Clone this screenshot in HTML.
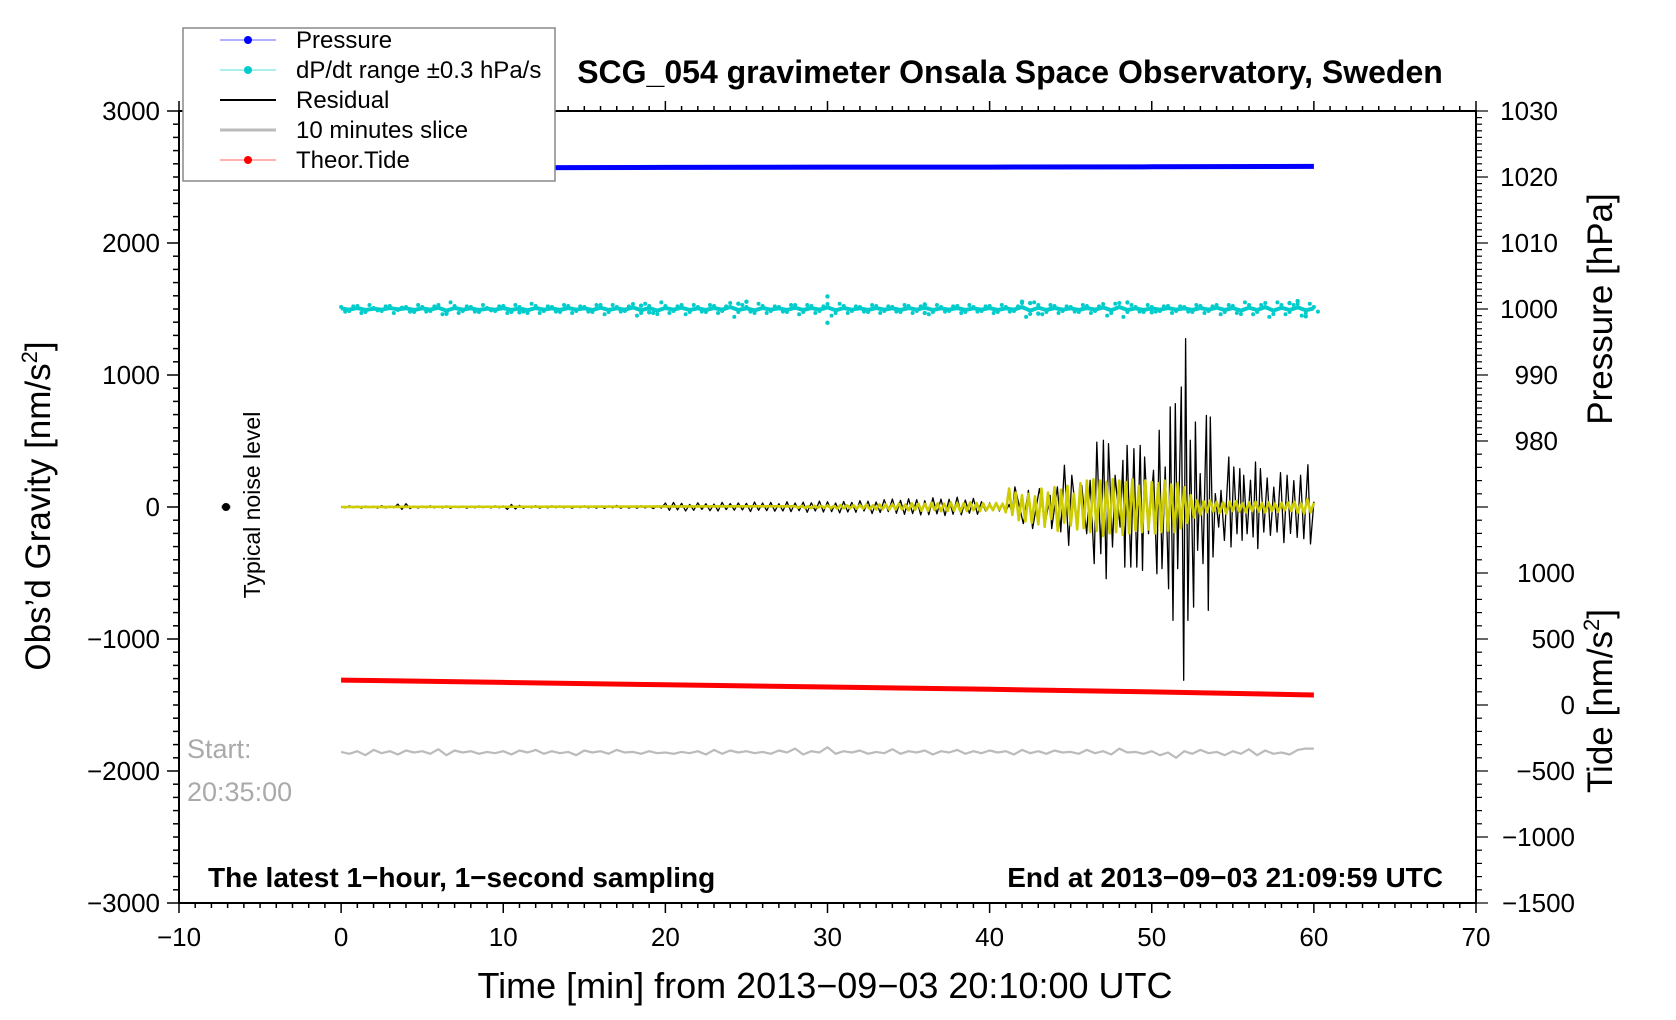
<!DOCTYPE html>
<html><head><meta charset="utf-8"><style>
html,body{margin:0;padding:0;background:#fff;}
svg{display:block;font-family:"Liberation Sans",Arial,sans-serif;}
</style></head><body>
<svg id="chart" width="1676" height="1020" viewBox="0 0 1676 1020">
<rect x="0" y="0" width="1676" height="1020" fill="#fff"/>
<g id="ticks"></g>
<g id="series"></g>
<rect x="179" y="111" width="1297" height="792" fill="none" stroke="#000" stroke-width="2"/>
<text x="1010" y="83" font-size="32" font-weight="bold" text-anchor="middle">SCG_054 gravimeter Onsala Space Observatory, Sweden</text>
<text x="208" y="887" font-size="28" font-weight="bold">The latest 1−hour, 1−second sampling</text>
<text x="1443" y="887" font-size="28" font-weight="bold" text-anchor="end">End at 2013−09−03 21:09:59 UTC</text>
<text x="825" y="998" font-size="36" text-anchor="middle">Time [min] from 2013−09−03 20:10:00 UTC</text>
<text transform="translate(50,506) rotate(-90)" font-size="35" text-anchor="middle">Obs’d Gravity [nm/s<tspan font-size="22" dy="-13">2</tspan><tspan dy="13">]</tspan></text>
<text transform="translate(1612,309) rotate(-90)" font-size="35" text-anchor="middle">Pressure [hPa]</text>
<text transform="translate(1612,701) rotate(-90)" font-size="35" text-anchor="middle">Tide [nm/s<tspan font-size="22" dy="-13">2</tspan><tspan dy="13">]</tspan></text>
<text transform="translate(260,505) rotate(-90)" font-size="23" text-anchor="middle">Typical noise level</text>
<line x1="221" y1="507" x2="231" y2="507" stroke="#bbb" stroke-width="3"/>
<circle cx="226" cy="507" r="4" fill="#000"/>
<text x="187" y="758" font-size="27" fill="#aaa">Start:</text>
<text x="187" y="801" font-size="27" fill="#aaa">20:35:00</text>
<g>
<rect x="183" y="28" width="372" height="153" fill="#fff" stroke="#888" stroke-width="1.5"/>
<g><line x1="220" y1="40" x2="276" y2="40" stroke="#6666ff" stroke-width="1"/><circle cx="248" cy="40" r="4" fill="#0000ff"/><text x="296" y="48" font-size="24">Pressure</text></g>
<g><line x1="220" y1="70" x2="276" y2="70" stroke="#55dddd" stroke-width="1"/><circle cx="248" cy="70" r="4" fill="#00cccc"/><text x="296" y="78" font-size="24">dP/dt range ±0.3 hPa/s</text></g>
<g><line x1="220" y1="100" x2="276" y2="100" stroke="#000" stroke-width="2"/><text x="296" y="108" font-size="24">Residual</text></g>
<g><line x1="220" y1="130" x2="276" y2="130" stroke="#bbb" stroke-width="3"/><text x="296" y="138" font-size="24">10 minutes slice</text></g>
<g><line x1="220" y1="160" x2="276" y2="160" stroke="#ff6666" stroke-width="1"/><circle cx="248" cy="160" r="4" fill="#ff0000"/><text x="296" y="168" font-size="24">Theor.Tide</text></g>
</g>
</svg>
<script>
// ---- data ----
const xTicks = [-10,0,10,20,30,40,50,60,70];
const yTicks = [3000,2000,1000,0,-1000,-2000,-3000];
const pTicks = [1030,1020,1010,1000,990,980];
const tideTicks = [1000,500,0,-500,-1000,-1500];
const pressureT = [0,10,20,30,40,50,60];
const pressureV = [1021.4,1021.4,1021.45,1021.5,1021.5,1021.55,1021.6];
const tideT = [0,10,20,30,40,50,60];
const tideV = [189,171,153,136,119,99,76];
const dpdtStep = 0.5;
const dpdtV = [0.2,-0.2,0.3,-0.3,0.1,-0.2,0.3,-0.1,0.2,-0.3,0.2,-0.2,0.4,-0.5,0.3,-0.2,0.2,-0.3,0.1,-0.2,
0.3,-0.3,0.2,-0.4,0.3,-0.2,0.2,-0.3,0.3,-0.2,0.2,-0.3,0.4,-0.3,0.2,-0.2,0.5,-0.4,0.3,-0.5,
0.3,-0.2,0.4,-0.3,0.2,-0.3,0.3,-0.2,0.6,-0.3,0.2,-0.4,0.3,-0.2,0.2,-0.3,0.4,-0.3,0.3,-0.2,
0.5,-0.4,0.3,-0.2,0.2,-0.3,0.3,-0.2,0.2,-0.3,0.3,-0.2,0.4,-0.3,0.2,-0.2,0.3,-0.3,0.2,-0.2,
0.3,-0.3,0.2,-0.2,0.6,-0.5,0.4,-0.3,0.3,-0.2,0.2,-0.3,0.3,-0.2,0.5,-0.4,0.6,-0.3,0.2,-0.3,
0.2,-0.2,0.3,-0.2,0.2,-0.3,0.3,-0.2,0.4,-0.3,0.3,-0.5,0.4,-0.3,0.6,-0.5,0.4,-0.3,0.5,-0.4,0.2];
const dpdtOutT = [6.5,11,18.5,19,24.5,25,30,30,36,36,42,42.5,43,48.5,50,58.5,59,59.5];
const dpdtOutV = [-0.6,-0.5,0.5,-0.5,0.8,1.1,1.9,-2.1,0.7,-0.6,1.1,0.9,-0.7,1.0,-0.5,0.9,1.2,-1.1];
const resEarlyStep = 0.25;
const resEarlyV = [4,-6,8,-5,6,-9,7,-4,5,-8,10,-7,6,-5,22,-18,25,-12,6,-8,
7,-5,9,-6,5,-7,8,-10,6,-5,7,-9,5,-6,8,-5,6,-7,9,-6,
8,-18,20,-15,12,-9,7,-6,10,-8,6,-7,9,-5,8,-6,7,-9,6,-5,
9,-7,6,-8,7,-10,8,-6,12,-9,7,-8,6,-9,10,-7,8,-12,9,-8,
30,-25,35,-22,28,-30,20,-25,32,-18,25,-28,22,-30,35,-20,26,-24,30,-22,
28,-35,38,-25,30,-28,35,-32,25,-30,40,-35,30,-28,36,-40,32,-30,45,-38,
40,-35,30,-45,42,-38,35,-40,48,-30,44,-50,38,-42,55,-35,60,-48,50,-55,
62,-50,55,-60,48,-58,70,-52,60,-65,58,-55,75,-60,52,-48,65,-55,40,-30,20];
const resLateT = [40.0,40.2,40.4,40.6,40.8,41.0,41.2,41.4,41.56,42.08,42.39,42.65,43.07,43.42,43.73,43.83,44.18,44.39,44.61,44.88,45.07,45.37,45.68,45.99,46.20,46.45,46.61,46.86,47.02,47.19,47.33,47.58,47.74,48.05,48.22,48.34,48.48,48.71,48.90,49.08,49.29,49.43,49.56,49.80,50.11,50.32,50.46,50.63,50.83,51.04,51.14,51.31,51.45,51.60,51.82,51.97,52.09,52.23,52.38,52.58,52.69,52.83,52.99,53.16,53.37,53.49,53.61,53.78,53.92,54.13,54.27,54.48,54.75,54.89,55.06,55.26,55.43,55.57,55.67,55.88,56.09,56.25,56.40,56.54,56.70,56.91,57.12,57.32,57.53,57.73,57.94,58.15,58.35,58.56,58.76,58.97,59.18,59.38,59.63,59.79,60.0];
const resLateV = [30,-25,20,-30,25,-35,20,-40,152,-126,126,-164,139,-126,88,-164,152,-189,316,-290,240,-101,164,-202,202,-429,492,-354,505,-543,480,-303,240,-152,353,-455,467,-455,442,-455,467,-480,379,-202,278,-505,581,-467,303,-619,758,-859,783,-467,909,-1313,1275,-859,505,-758,644,-328,253,-429,694,-783,682,-379,101,-152,126,-253,379,-303,303,-202,290,-253,240,-202,202,-227,341,-315,290,-190,220,-215,150,-190,260,-270,240,-200,200,-230,240,-240,320,-280,40];
const yellowStart = 28;
const yellowStep = 0.2;
const yellowV = [5,-5,8,-6,5,-8,10,-6,8,-5,12,-10,8,-12,15,-10,12,-8,14,-12,
15,-12,18,-15,12,-18,20,-15,18,-20,22,-18,25,-20,18,-25,28,-22,25,-28,
25,-30,30,-22,28,-32,25,-30,35,-28,30,-35,28,-30,35,-25,30,-32,28,-25,
20,-25,30,-20,25,-40,140,-60,110,-100,90,-110,100,-120,80,-130,140,-150,110,-90,
150,-180,130,-120,160,-140,100,-170,180,-160,200,-190,210,-180,200,-220,190,-200,210,-190,
200,-210,190,-200,210,-180,160,-190,200,-170,190,-200,180,-190,200,-180,170,-190,180,-160,
150,-120,90,-80,50,-60,45,-40,50,-35,40,-45,35,-50,40,-30,45,-35,30,-40,
35,-30,40,-35,30,-40,35,-30,25,-35,30,-25,35,-30,40,-45,30,-50,60,-40,30];
const sliceStep = 0.5;
const sliceV = [-1855,-1870,-1850,-1880,-1840,-1865,-1850,-1875,-1845,-1860,-1850,-1870,-1835,-1880,-1845,-1860,-1850,-1870,-1855,-1865,
-1850,-1875,-1845,-1860,-1840,-1870,-1850,-1865,-1855,-1880,-1845,-1860,-1850,-1870,-1840,-1860,-1855,-1870,-1850,-1865,
-1860,-1870,-1855,-1865,-1850,-1875,-1840,-1870,-1845,-1860,-1850,-1865,-1855,-1870,-1845,-1860,-1830,-1875,-1850,-1860,
-1820,-1870,-1850,-1860,-1845,-1870,-1855,-1865,-1835,-1870,-1850,-1860,-1845,-1875,-1850,-1860,-1840,-1870,-1850,-1865,
-1845,-1860,-1850,-1875,-1840,-1865,-1850,-1870,-1845,-1860,-1855,-1870,-1840,-1865,-1850,-1875,-1830,-1860,-1855,-1870,
-1850,-1880,-1860,-1900,-1850,-1870,-1840,-1865,-1855,-1880,-1850,-1870,-1835,-1880,-1845,-1870,-1860,-1875,-1840,-1830,-1830];

// ---- axes ----
const X0=179, X1=1476, Y0=111, Y1=903;
function X(m){return X0+(m+10)*(X1-X0)/80;}
function Y(g){return Y1-(g+3000)*(Y1-Y0)/6000;}
function presToG(p){return (p-1030)*50+3000;}
function tideToG(t){return t-1500;}
const NS='http://www.w3.org/2000/svg';
function mk(tag,attrs,parent){const e=document.createElementNS(NS,tag);for(const k in attrs)e.setAttribute(k,attrs[k]);parent.appendChild(e);return e;}
const tg=document.getElementById('ticks'), sg=document.getElementById('series');
function tick(x1,y1,x2,y2,w){const l=mk('line',{x1:x1,y1:y1,x2:x2,y2:y2,stroke:'#000','stroke-width':w},tg);

}
function label(x,y,txt,anchor,size,name){const t=mk('text',{x:x,y:y,'text-anchor':anchor,'font-size':size},tg);t.textContent=txt;

}
function fmt(v){return v<0?'−'+Math.abs(v):String(v);}
for(let m=-10;m<=70;m++){const major=(m%10===0);const x=X(m);
 tick(x,Y1,x,Y1+(major?10:5),1.5); tick(x,Y0,x,Y0-(major?10:5),1.5);}
xTicks.forEach(v=>label(X(v),946,fmt(v),'middle',26,'x-tick-label'));
for(let g=-3000;g<=3000;g+=100){const major=(g%1000===0);tick(X0,Y(g),X0-(major?12:6),Y(g),1.5);}
yTicks.forEach(v=>label(160,Y(v)+9,fmt(v),'end',26,'y-tick-label'));
for(let p=980;p<=1030;p++){const major=(p%10===0);tick(X1,Y(presToG(p)),X1+(major?12:6),Y(presToG(p)),1.2);}
for(let g=presToG(980)-100;g>=-3000;g-=100){const t=g+1500;const major=(t%500===0);tick(X1,Y(g),X1+(major?12:6),Y(g),1.2);}
pTicks.forEach(v=>label(1558,Y(presToG(v))+9,String(v),'end',26,'pressure-tick-label'));
tideTicks.forEach(v=>label(1575,Y(tideToG(v))+9,fmt(v),'end',26,'tide-tick-label'));

// ---- series ----
function poly(pts,stroke,w,name){const p=mk('polyline',{points:pts.map(a=>a[0].toFixed(1)+','+a[1].toFixed(1)).join(' '),fill:'none',stroke:stroke,'stroke-width':w,'stroke-linejoin':'round'},sg);

return p;}
poly(sliceV.map((v,i)=>[X(i*sliceStep),Y(v)]),'#bbbbbb',2.2,'slice-line');
poly(tideT.map((t,i)=>[X(t),Y(tideToG(tideV[i]))]),'#ff0000',5,'tide-line');
poly(pressureT.map((t,i)=>[X(t),Y(presToG(pressureV[i]))]),'#0000ff',5,'pressure-line');
poly(dpdtV.map((v,i)=>[X(i*dpdtStep),Y(presToG(1000+v*0.5))]),'#00cccc',4,'dpdt-band');
dpdtV.forEach((v,i)=>{const c=mk('circle',{cx:X(i*dpdtStep+0.25),cy:Y(presToG(1000-v*2)),r:2,fill:'#00cccc'},sg);

});
dpdtV.forEach((v,i)=>{const c=mk('circle',{cx:X(i*dpdtStep),cy:Y(presToG(1000+v*1.5)),r:2,fill:'#00cccc'},sg);

});
dpdtOutT.forEach((t,i)=>{const c=mk('circle',{cx:X(t),cy:Y(presToG(1000+dpdtOutV[i])),r:2.2,fill:'#00cccc'},sg);

});
const resPts=resEarlyV.map((v,i)=>[X(i*resEarlyStep),Y(v)]).concat(resLateT.map((t,i)=>[X(t),Y(resLateV[i])]));
poly(resPts,'#000',1.3,'residual-line');
const yPts=[[X(0),Y(0)]].concat(yellowV.map((v,i)=>[X(yellowStart+i*yellowStep),Y(v)]));
poly(yPts,'#cccc00',2.6,'filtered-residual-line');
</script>
</body></html>
